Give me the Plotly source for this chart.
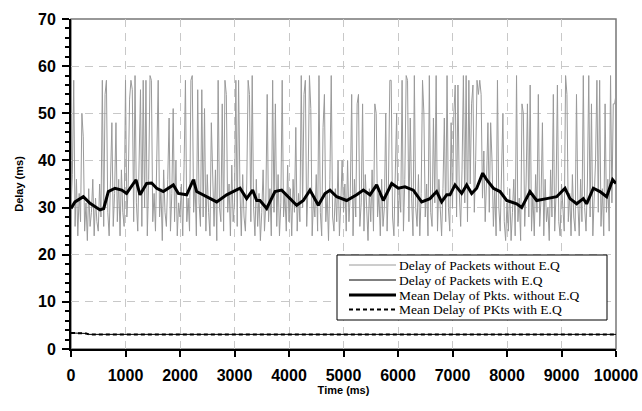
import plotly.graph_objects as go

# ---- data ----
step_ms = 25
delay_no_eq = [
    30, 37, 57, 26, 36, 24, 33, 27, 50, 45, 25, 31, 23, 34, 26, 29, 36, 24, 32, 27,
    25, 35, 28, 57, 26, 54, 57, 29, 24, 37, 48, 26, 33, 48, 27, 36, 24, 38, 29, 26,
    57, 28, 35, 53, 57, 55, 27, 58, 31, 25, 38, 55, 26, 57, 30, 57, 24, 36, 58, 57,
    27, 33, 25, 40, 57, 28, 34, 23, 38, 29, 26, 36, 49, 25, 33, 51, 27, 40, 24, 31,
    28, 35, 24, 39, 57, 27, 32, 25, 57, 58, 29, 36, 24, 55, 31, 26, 55, 28, 51, 25,
    37, 29, 24, 48, 33, 26, 38, 23, 57, 30, 27, 52, 25, 57, 54, 29, 35, 24, 39, 27,
    31, 57, 26, 57, 34, 24, 37, 28, 25, 35, 57, 54, 27, 58, 30, 24, 36, 26, 33, 23,
    29, 38, 25, 31, 54, 27, 34, 24, 57, 29, 52, 26, 37, 24, 31, 57, 28, 33, 25, 39,
    27, 34, 24, 36, 29, 47, 25, 33, 27, 58, 30, 54, 57, 26, 35, 58, 51, 24, 32, 28,
    37, 25, 58, 29, 24, 47, 54, 27, 33, 23, 36, 58, 28, 25, 34, 27, 40, 24, 31, 40,
    29, 35, 25, 40, 27, 33, 54, 24, 36, 28, 52, 54, 26, 31, 52, 25, 37, 29, 23, 34,
    27, 38, 25, 52, 50, 28, 33, 24, 36, 26, 30, 50, 25, 35, 57, 57, 28, 24, 37, 50,
    26, 34, 29, 57, 25, 36, 58, 57, 27, 49, 32, 24, 58, 30, 26, 37, 24, 33, 57, 50,
    28, 35, 24, 58, 29, 26, 49, 31, 58, 25, 36, 28, 24, 34, 49, 27, 58, 30, 25, 48,
    30, 50, 56, 28, 56, 33, 26, 38, 58, 31, 58, 27, 57, 35, 52, 56, 29, 40, 57, 54,
    57, 54, 32, 42, 27, 36, 48, 29, 48, 40, 26, 34, 24, 57, 30, 25, 35, 50, 27, 23,
    31, 25, 34, 23, 29, 36, 24, 58, 27, 32, 23, 52, 50, 26, 35, 52, 28, 56, 25, 33,
    24, 37, 29, 54, 26, 32, 48, 24, 36, 27, 30, 23, 38, 28, 54, 25, 33, 56, 27, 24,
    35, 29, 25, 58, 54, 27, 33, 24, 37, 28, 25, 54, 31, 24, 36, 27, 58, 30, 25, 35,
    58, 28, 52, 24, 33, 40, 57, 29, 57, 26, 34, 24, 52, 29, 36, 25, 58, 31, 52, 52,
    54,
]
time_no_eq = [i * step_ms for i in range(len(delay_no_eq))]

mean_time = [0, 73, 226, 349, 532, 600, 685, 807, 930, 1020, 1193, 1266, 1388, 1480,
             1572, 1694, 1878, 1970, 2122, 2245, 2306, 2489, 2673, 2856, 3101, 3223,
             3333, 3407, 3468, 3590, 3743, 3865, 3988, 4141, 4263, 4385, 4538, 4661,
             4752, 4875, 5058, 5242, 5364, 5486, 5609, 5731, 5884, 6006, 6128, 6281,
             6434, 6587, 6709, 6801, 6893, 6954, 7046, 7168, 7260, 7352, 7444, 7554,
             7627, 7750, 7872, 7994, 8177, 8269, 8422, 8544, 8728, 8911, 9064, 9156,
             9278, 9400, 9461, 9584, 9706, 9828, 9938, 10000]
mean_no_eq = [29.8, 31.2, 32.3, 30.9, 29.5, 29.8, 33.4, 34.1, 33.7, 33.0, 35.9, 32.7,
              35.1, 35.2, 34.1, 33.4, 34.8, 33.0, 32.7, 35.9, 33.4, 32.3, 31.2, 32.7,
              34.1, 31.9, 33.7, 31.5, 31.5, 29.8, 33.4, 33.7, 32.3, 30.5, 31.5, 33.7,
              30.5, 33.0, 33.7, 32.3, 31.5, 32.7, 33.7, 32.7, 34.8, 31.5, 35.1, 34.1,
              34.4, 33.7, 31.2, 31.9, 33.4, 31.2, 32.7, 32.7, 34.8, 33.0, 34.8, 33.0,
              34.1, 37.3, 35.9, 34.1, 33.4, 31.5, 30.8, 30.0, 33.4, 31.5, 31.9, 32.3,
              34.1, 31.9, 30.8, 31.9, 30.8, 34.1, 33.4, 32.3, 35.9, 35.1]

eq_time = [0, 150, 280, 330, 1000, 3000, 5000, 7000, 10000]
delay_eq = [3.4, 3.4, 3.3, 3.1, 3.1, 3.1, 3.1, 3.1, 3.1]
mean_eq = [3.4, 3.4, 3.3, 3.1, 3.1, 3.1, 3.1, 3.1, 3.1]

names = ["Delay of Packets without E.Q", "Delay of Packets with E.Q",
         "Mean Delay of Pkts. without E.Q", "Mean Delay of PKts with E.Q"]

styles = [dict(color="#9a9a9a", width=1),
          dict(color="black", width=1),
          dict(color="black", width=3),
          dict(color="black", width=2, dash="4px,3px")]

fig = go.Figure()
fig.add_trace(go.Scatter(x=time_no_eq, y=delay_no_eq, mode="lines", name=names[0], line=styles[0]))
fig.add_trace(go.Scatter(x=eq_time, y=delay_eq, mode="lines", name=names[1], line=styles[1]))
fig.add_trace(go.Scatter(x=mean_time, y=mean_no_eq, mode="lines", name=names[2], line=styles[2]))
fig.add_trace(go.Scatter(x=eq_time, y=mean_eq, mode="lines", name=names[3], line=styles[3]))

# ---- custom legend box (paper coords) ----
W, H = 642, 411
L, R, T, B = 71, 26, 19, 62
pw, ph = W - L - R, H - T - B
def px(x): return (x - L) / pw
def py(y): return (H - B - y) / ph

shapes = [dict(type="rect", xref="paper", yref="paper", x0=0, y0=0, x1=1, y1=1,
               line=dict(color="#777777", width=1.5), layer="below"),
          dict(type="rect", xref="paper", yref="paper", x0=px(337), x1=px(607),
               y0=py(320), y1=py(255), line=dict(color="black", width=1),
               fillcolor="white", layer="above")]
annotations = []
item_y = [265, 280, 295, 309.5]
for nm, st, yy in zip(names, styles, item_y):
    shapes.append(dict(type="line", xref="paper", yref="paper", x0=px(349), x1=px(396),
                       y0=py(yy), y1=py(yy), line=st, layer="above"))
    annotations.append(dict(xref="paper", yref="paper", x=px(397), y=py(yy), text=nm,
                            showarrow=False, xanchor="left", yanchor="middle",
                            font=dict(family="Liberation Serif, serif", size=13.5, color="black")))

tickfont = dict(family="Arial, Liberation Sans, sans-serif", size=16, color="black", weight="bold")
titlefont = dict(family="Arial, Liberation Sans, sans-serif", size=11, color="black", weight="bold")

fig.update_layout(
    width=W, height=H,
    margin=dict(l=L, r=R, t=T, b=B, autoexpand=False),
    plot_bgcolor="white", paper_bgcolor="white",
    showlegend=False,
    shapes=shapes, annotations=annotations,
)
fig.update_xaxes(
    range=[0, 10000], dtick=1000, tick0=0, tickformat="d",
    showline=True, linecolor="black", linewidth=2,
    ticks="outside", ticklen=6, tickwidth=2, tickcolor="black",
    tickfont=tickfont, ticklabelstandoff=5,
    showgrid=True, gridcolor="#c8c8c8", gridwidth=1, griddash="8px,6px",
    zeroline=False, automargin=False,
    title=dict(text="Time (ms)", font=titlefont, standoff=3),
)
fig.update_yaxes(
    range=[0, 70], dtick=10, tick0=0,
    showline=True, linecolor="black", linewidth=2,
    ticks="outside", ticklen=7, tickwidth=2, tickcolor="black",
    minor=dict(dtick=2, ticks="outside", ticklen=4, tickwidth=1.5, tickcolor="black", showgrid=False),
    tickfont=tickfont, ticklabelstandoff=3,
    showgrid=True, gridcolor="#c8c8c8", gridwidth=1, griddash="8px,6px",
    zeroline=False, automargin=False,
    title=dict(text="Delay (ms)", font=titlefont, standoff=12),
)

fig.write_html("out.html")
